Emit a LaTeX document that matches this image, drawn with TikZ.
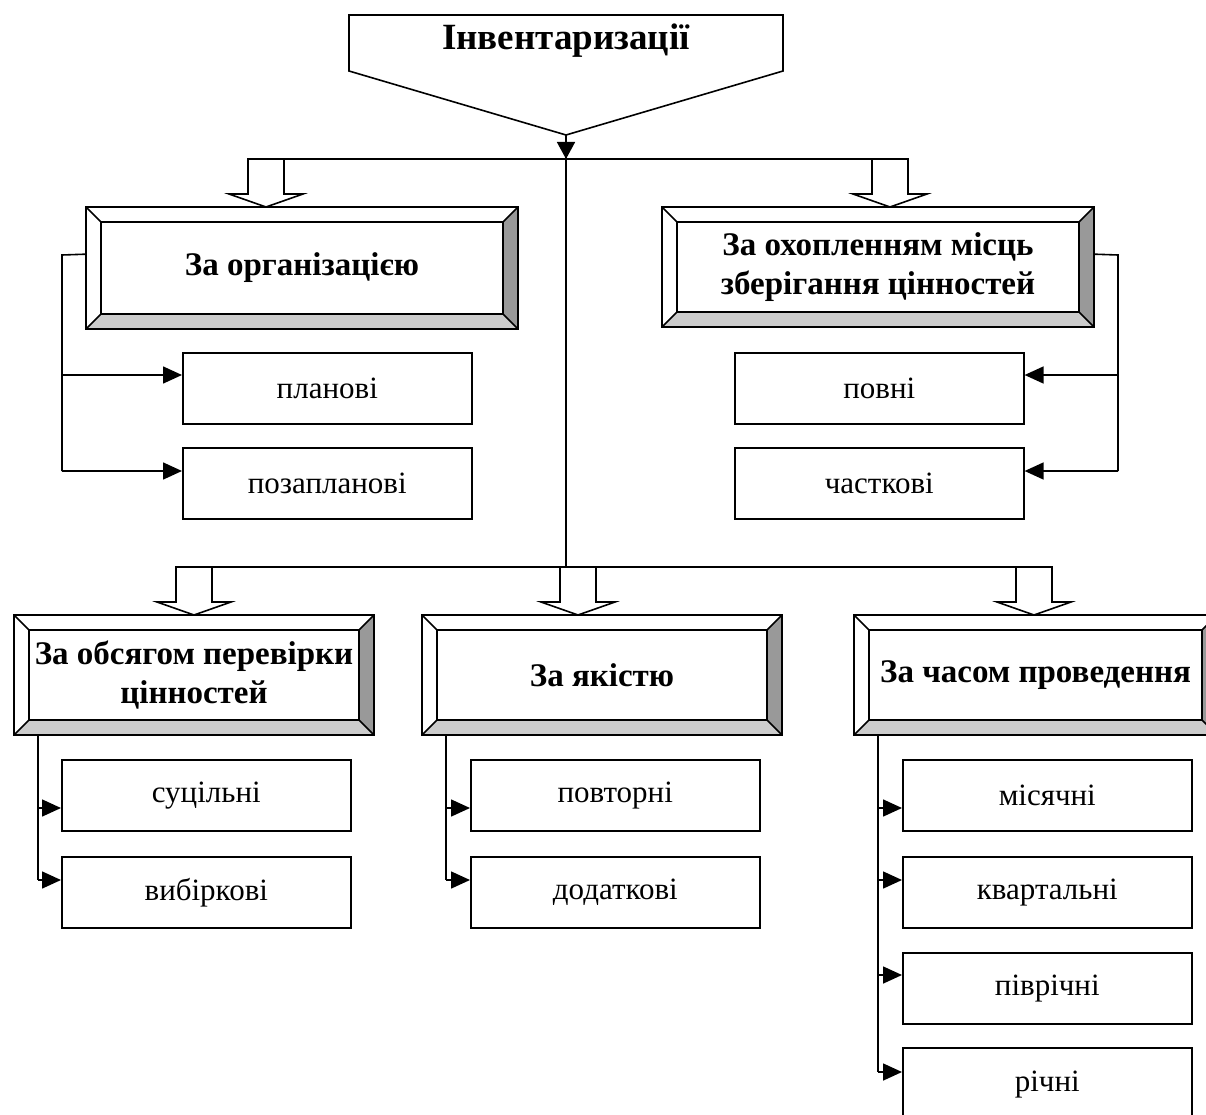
\documentclass[tikz,border=0pt]{standalone}
\usepackage{fontspec}
\setmainfont{Liberation Serif}
\usetikzlibrary{arrows.meta,calc}
\definecolor{bevdark}{HTML}{999999}
\definecolor{bevlight}{HTML}{CCCCCC}
\tikzset{
  ln/.style={line width=1.6pt, line join=miter},
  arr/.style={ln, -{Triangle[length=19pt,width=17pt]}},
  subbox/.style={draw, ln, minimum width=289pt, minimum height=71pt, inner sep=0pt,
    font=\fontsize{31}{36}\selectfont},
  headbox/.style={draw, ln, inner sep=0pt, align=center,
    font=\bfseries\fontsize{33}{39}\selectfont},
}
% name, x1, y1, x2, y2, text
\newcommand\bvbox[6]{%
  \fill[bevdark] (#4,#3) -- (#4,#5) -- (#4-15,#5-15) -- (#4-15,#3+15) -- cycle;
  \fill[bevlight] (#2,#5) -- (#4,#5) -- (#4-15,#5-15) -- (#2+15,#5-15) -- cycle;
  \node[headbox, minimum width={(#4-#2)*1pt}, minimum height={(#5-#3)*1pt}] (#1)
    at ({(#2+#4)/2},{(#3+#5)/2}) {#6};
  \draw[ln] (#2+15,#3+15) rectangle (#4-15,#5-15);
  \draw[ln] (#2,#3) -- (#2+15,#3+15) (#4,#3) -- (#4-15,#3+15)
            (#2,#5) -- (#2+15,#5-15) (#4,#5) -- (#4-15,#5-15);
}
% centre x, top y, tip y
\newcommand\blkarr[3]{%
  \draw[ln, fill=white] (#1-18,#2) -- (#1-18,#3-13) -- (#1-37,#3-13) -- (#1,#3)
    -- (#1+37,#3-13) -- (#1+18,#3-13) -- (#1+18,#2) -- cycle;
}
\begin{document}
\begin{tikzpicture}[x=1pt,y=-1pt]
\useasboundingbox (0,0) rectangle (1206,1115);
\clip (0,0) rectangle (1206,1115);

% title callout
\draw[ln, fill=white] (349,15) -- (783,15) -- (783,71) -- (566,135) -- (349,71) -- cycle;
\node[font=\bfseries\fontsize{37}{40}\selectfont, inner sep=0pt] (title) at (566,41) {Інвентаризації};
\coordinate (tip) at (566,135);
\coordinate (j1) at (566,159);
\coordinate (j2) at (566,567);
\draw[ln] (tip) -- (j2);
\draw[ln, -{Triangle[length=17pt,width=18pt]}] (tip) -- (j1);

% distribution lines
\draw[ln] (248,159) -- (908,159);
\draw[ln] (176,567) -- (1052,567);

% heading boxes
\bvbox{org}{86}{207}{518}{329}{За організацією}
\bvbox{cover}{662}{207}{1094}{327}{За охопленням місць\\зберігання цінностей}
\bvbox{vol}{14}{615}{374}{735}{За обсягом перевірки\\цінностей}
\bvbox{qual}{422}{615}{782}{735}{За якістю}
\bvbox{time}{854}{615}{1217}{735}{За часом проведення}

% block arrows
\blkarr{266}{159}{207}
\blkarr{890}{159}{207}
\blkarr{194}{567}{615}
\blkarr{578}{567}{615}
\blkarr{1034}{567}{615}

% sub boxes
\node[subbox, anchor=north west] (plan)   at (182,352) {планові};
\node[subbox, anchor=north west] (unplan) at (182,447) {позапланові};
\node[subbox, anchor=north west] (full)   at (734,352) {повні};
\node[subbox, anchor=north west] (part)   at (734,447) {часткові};
\node[subbox, anchor=north west] (solid)  at (61,759)  {суцільні};
\node[subbox, anchor=north west] (sample) at (61,856)  {вибіркові};
\node[subbox, anchor=north west] (rep)    at (470,759) {повторні};
\node[subbox, anchor=north west] (add)    at (470,856) {додаткові};
\node[subbox, anchor=north west] (mon)    at (902,759) {місячні};
\node[subbox, anchor=north west] (qtr)    at (902,856) {квартальні};
\node[subbox, anchor=north west] (half)   at (902,952) {піврічні};
\node[subbox, anchor=north west, minimum height=73pt] (year) at (902,1047) {річні};

% connectors: За організацією
\coordinate (oa) at (62,255);
\coordinate (ob) at (62,375);
\coordinate (oc) at (62,471);
\draw[ln] ($(org.north west)+(0,48)$) -- (oa) -- (oc);
\draw[arr] (ob) -- ($(plan.north west)+(0,23)$);
\draw[arr] (oc) -- ($(unplan.north west)+(0,24)$);

% connectors: За охопленням
\coordinate (ca) at (1118,255);
\coordinate (cb) at (1118,375);
\coordinate (cc) at (1118,471);
\draw[ln] ($(cover.north east)+(0,48)$) -- (ca) -- (cc);
\draw[arr] (cb) -- ($(full.north east)+(0,23)$);
\draw[arr] (cc) -- ($(part.north east)+(0,24)$);

% connectors: За обсягом
\coordinate (va) at (38,808);
\coordinate (vb) at (38,880);
\draw[ln] (vol.south west -| va) -- (vb);
\draw[arr] (va) -- ($(solid.north west)+(0,49)$);
\draw[arr] (vb) -- ($(sample.north west)+(0,24)$);

% connectors: За якістю
\coordinate (qa) at (446,808);
\coordinate (qb) at (446,880);
\draw[ln] (qual.south west -| qa) -- (qb);
\draw[arr] (qa) -- ($(rep.north west)+(0,49)$);
\draw[arr] (qb) -- ($(add.north west)+(0,24)$);

% connectors: За часом
\coordinate (ta) at (878,808);
\coordinate (tb) at (878,880);
\coordinate (tc) at (878,975);
\coordinate (td) at (878,1072);
\draw[ln] (time.south west -| ta) -- (td);
\draw[arr] (ta) -- ($(mon.north west)+(0,49)$);
\draw[arr] (tb) -- ($(qtr.north west)+(0,24)$);
\draw[arr] (tc) -- ($(half.north west)+(0,23)$);
\draw[arr] (td) -- ($(year.north west)+(0,25)$);
\end{tikzpicture}
\end{document}
